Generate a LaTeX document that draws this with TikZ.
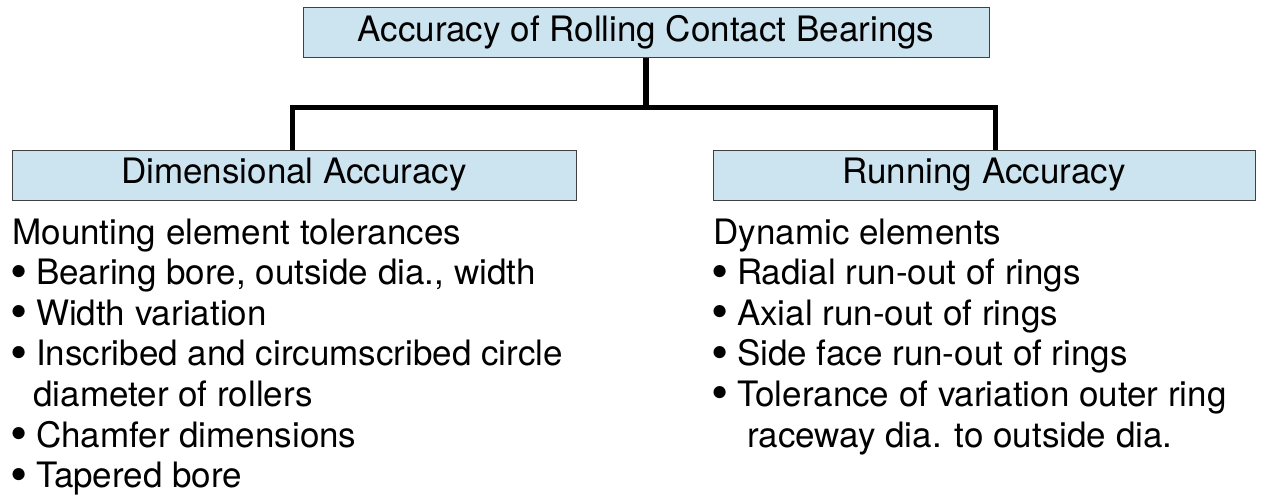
\documentclass[tikz,border=0pt]{standalone}
\usepackage{fontspec}
\setmainfont{TeX Gyre Heros}
\usetikzlibrary{positioning}
\definecolor{boxblue}{RGB}{204,228,240}
\newcommand\bul{\makebox[.4em]{\raisebox{-.1em}{\scalebox{1.4}{\textbullet}}}\ }
\begin{document}
\begin{tikzpicture}[x=.5pt,y=-.5pt,
    hdr/.style={draw=black!75,line width=.5pt,fill=boxblue,minimum height=25pt,inner sep=0pt,font=\fontsize{17.5}{20}\selectfont},
    link/.style={line width=2.75pt},
    item/.style={anchor=base west,inner sep=0pt,font=\fontsize{17.5}{20}\selectfont}]
  \useasboundingbox (0,0) rectangle (1267,495);
  \node[hdr,minimum width=343pt] (top) at (646,32) {Accuracy of Rolling Contact Bearings};
  \node[hdr,minimum width=282pt] (dim) at (294,175) {Dimensional Accuracy};
  \node[hdr,minimum width=271pt] (run) at (984,175) {Running Accuracy};
  \coordinate (bus) at (0,107.5);
  \coordinate (jl) at ([xshift=-.75pt]dim.north);
  \coordinate (jr) at ([xshift=5.75pt]run.north);
  \draw[link] (top.south) -- (top.south |- bus);
  \draw[link] (jl) |- (jr |- bus) -- (jr);
  \foreach \x/\t [count=\i from 0] in {12/Mounting element tolerances,12/{\bul Bearing bore, outside dia., width},
      12/\bul Width variation,12/\bul Inscribed and circumscribed circle,33/diameter of rollers,
      12/\bul Chamfer dimensions,12/\bul Tapered bore}
    \node[item] (dl\i) at (\x,{244+40.6*\i}) {\t};
  \foreach \x/\t [count=\i from 0] in {713/Dynamic elements,713/\bul Radial run-out of rings,
      713/\bul Axial run-out of rings,713/\bul Side face run-out of rings,
      713/\bul Tolerance of variation outer ring,747/raceway dia. to outside dia.}
    \node[item] (rl\i) at (\x,{244+40.6*\i}) {\t};
\end{tikzpicture}
\end{document}
